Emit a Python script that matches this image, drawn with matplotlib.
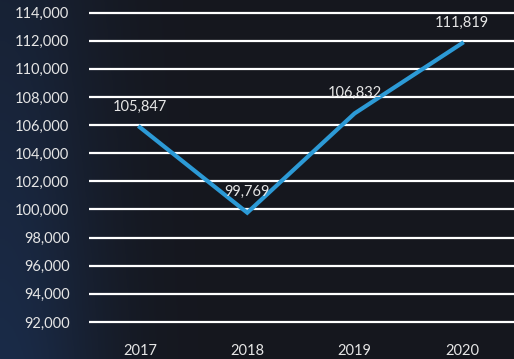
import numpy as np
import matplotlib
matplotlib.use('Agg')
import matplotlib.pyplot as plt

years = ["2017", "2018", "2019", "2020"]
values = [105847, 99769, 106832, 111819]
y_ticks = list(range(92000, 114001, 2000))

bg = "#15171e"
text_color = "#e6e6e6"
line_color = "#2c9ad6"

fig = plt.figure(figsize=(5.14, 3.59), dpi=100)
fig.patch.set_facecolor(bg)

# soft blue tint along the left edge of the backdrop
glow_ax = fig.add_axes([0, 0, 1, 1], zorder=-1)
xx, yy = np.meshgrid(np.linspace(0, 1, 200), np.linspace(0, 1, 140))
glow = np.exp(-(xx / 0.2) ** 2) * (0.55 + 0.45 * (1 - yy))
base = np.array([0x15, 0x17, 0x1e]) / 255
tint = np.array([0x1a, 0x2b, 0x48]) / 255
img = base + glow[..., None] * (tint - base)
glow_ax.imshow(img, extent=[0, 1, 0, 1], aspect="auto", origin="lower")
glow_ax.axis("off")

ax = fig.add_axes([0.173, 0.072, 0.827, 0.928])
ax.set_facecolor("none")

x = np.arange(len(years))
ax.plot(x, values, color=line_color, linewidth=3, solid_joinstyle="miter", zorder=3)

for xi, v in zip(x, values):
    ax.annotate(f"{v:,}", (xi, v), xytext=(0, 15), textcoords="offset points",
                ha="center", va="center", color=text_color, fontsize=10.5,
                family="Lato", zorder=4)

ax.set_xlim(-0.475, 3.485)
ax.set_ylim(91200, 114900)
ax.set_yticks(y_ticks)
ax.set_yticklabels([f"{t:,}" for t in y_ticks])
ax.set_xticks(x)
ax.set_xticklabels(years)

ax.grid(axis="y", color="white", linewidth=1.6, zorder=1)
ax.grid(axis="x", visible=False)
ax.tick_params(axis="both", length=0, colors=text_color, labelsize=10.5)
ax.tick_params(axis="y", pad=14)
ax.tick_params(axis="x", pad=8)
for label in ax.get_xticklabels() + ax.get_yticklabels():
    label.set_family("Lato")
for spine in ax.spines.values():
    spine.set_visible(False)

plt.savefig("out.png", facecolor=bg)
plt.close()
